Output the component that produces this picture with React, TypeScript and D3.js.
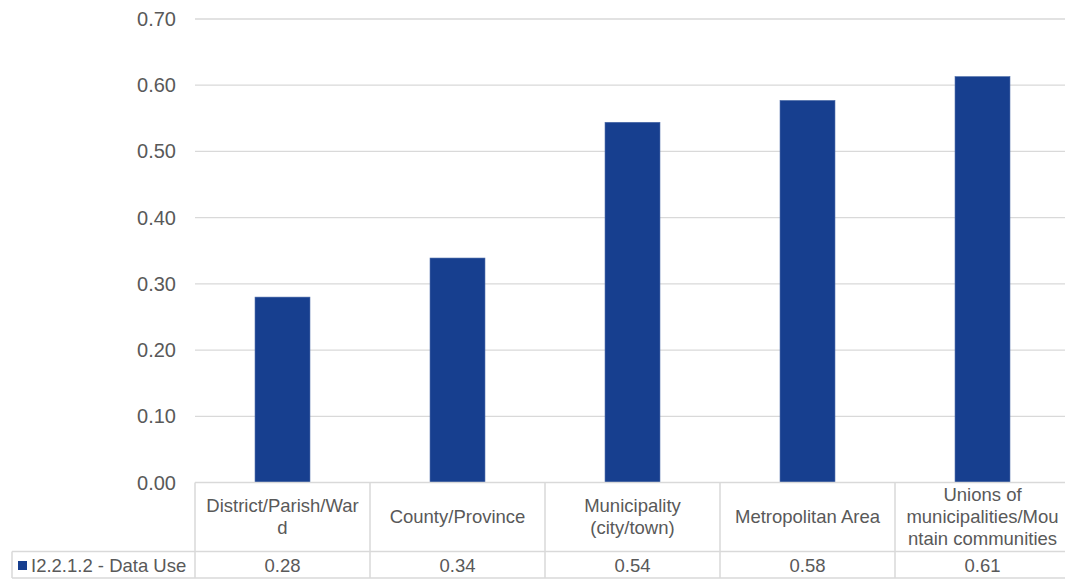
import React from "react";
import * as d3 from "d3";

const categories: string[][] = [
  ["District/Parish/War", "d"],
  ["County/Province"],
  ["Municipality", "(city/town)"],
  ["Metropolitan Area"],
  ["Unions of", "municipalities/Mou", "ntain communities"],
];
const values: number[] = [0.28, 0.339, 0.544, 0.577, 0.613];
const yTicks: number[] = [0, 0.1, 0.2, 0.3, 0.4, 0.5, 0.6, 0.7];
const seriesName = "I2.2.1.2 - Data Use";

const W = 1065;
const H = 579;
const left = 195;
const right = 1070;
const top = 19;
const bottom = 482.5;
const headerBottom = 551.5;
const tableBottom = 578;
const legendLeft = 12;

const barColor = "#173F8F";
const textColor = "#595959";
const gridColor = "#d9d9d9";
const font = "'Liberation Sans', Arial, sans-serif";

export default function App() {
  const x = d3
    .scaleBand<number>()
    .domain(categories.map((_, i) => i))
    .range([left, right])
    .paddingInner(0.686)
    .paddingOuter(0.343);
  const cols = d3
    .scaleBand<number>()
    .domain(categories.map((_, i) => i))
    .range([left, right]);
  const y = d3.scaleLinear().domain([0, 0.7]).range([bottom, top]);
  const fmt = d3.format(".2f");
  const lh = 22;
  const headerMid = (bottom + headerBottom) / 2;

  return (
    <svg
      width={W}
      height={H}
      style={{ position: "absolute", left: 0, top: 0, background: "#fff" }}
      fontFamily={font}
    >
      <rect x={0} y={0} width={W} height={H} fill="#fff" />
      {yTicks.map((t) => (
        <g key={t}>
          {t > 0 && (
            <line
              x1={left}
              x2={right}
              y1={y(t)}
              y2={y(t)}
              stroke={gridColor}
              strokeWidth={1.3}
            />
          )}
          <text
            x={176}
            y={y(t)}
            dy="0.35em"
            textAnchor="end"
            fontSize={20}
            fill={textColor}
          >
            {fmt(t)}
          </text>
        </g>
      ))}
      {values.map((v, i) => (
        <rect
          key={i}
          x={x(i)}
          y={y(v)}
          width={x.bandwidth()}
          height={bottom - y(v)}
          fill={barColor}
          stroke="#4a6aa8"
          strokeWidth={0.6}
        />
      ))}
      {/* table */}
      <g stroke={gridColor} strokeWidth={1.5} fill="none">
        <line x1={left} x2={right} y1={bottom} y2={bottom} />
        <line x1={legendLeft} x2={right} y1={headerBottom} y2={headerBottom} />
        <line x1={legendLeft} x2={right} y1={tableBottom} y2={tableBottom} />
        <line x1={legendLeft} x2={legendLeft} y1={headerBottom} y2={tableBottom} />
        {categories.map((_, i) => (
          <line
            key={i}
            x1={cols(i)}
            x2={cols(i)}
            y1={bottom}
            y2={tableBottom}
          />
        ))}
        <line x1={right} x2={right} y1={bottom} y2={tableBottom} />
      </g>
      {categories.map((lines, i) => {
        const cx = (cols(i) as number) + cols.bandwidth() / 2;
        const start = headerMid - ((lines.length - 1) * lh) / 2;
        return (
          <text
            key={i}
            x={cx}
            textAnchor="middle"
            fontSize={18.5}
            fill={textColor}
          >
            {lines.map((l, j) => (
              <tspan key={j} x={cx} y={start + j * lh} dy="0.35em">
                {l}
              </tspan>
            ))}
          </text>
        );
      })}
      {values.map((v, i) => (
        <text
          key={i}
          x={(cols(i) as number) + cols.bandwidth() / 2}
          y={(headerBottom + tableBottom) / 2 + 1}
          dy="0.35em"
          textAnchor="middle"
          fontSize={18.5}
          fill={textColor}
        >
          {fmt(v)}
        </text>
      ))}
      <rect x={18} y={561} width={9} height={9} fill={barColor} />
      <text
        x={31}
        y={(headerBottom + tableBottom) / 2 + 1}
        dy="0.35em"
        fontSize={18.5}
        fill={textColor}
      >
        {seriesName}
      </text>
    </svg>
  );
}
